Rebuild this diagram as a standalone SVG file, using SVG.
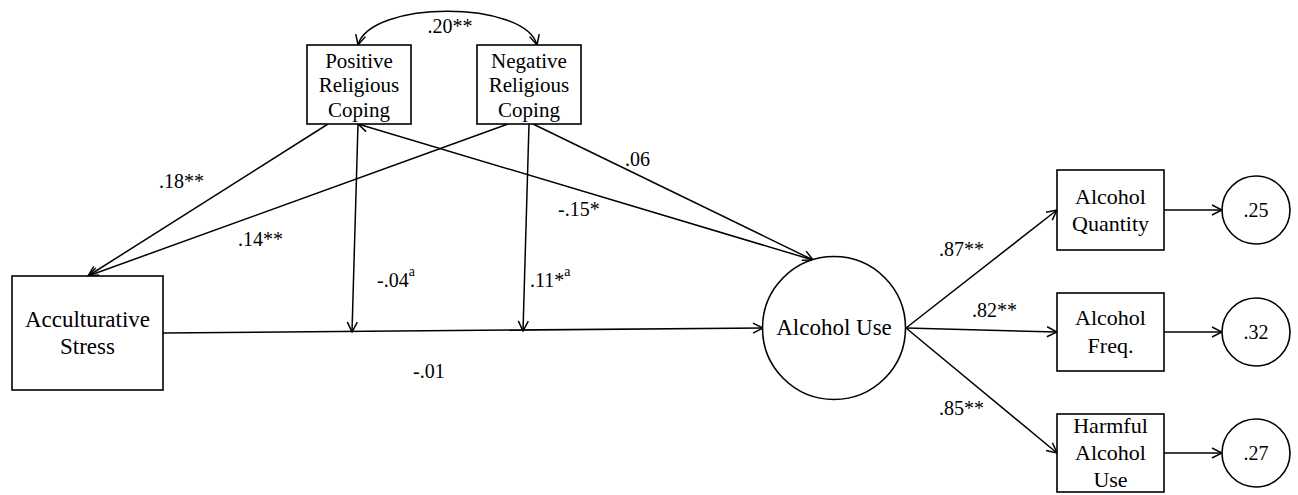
<svg xmlns="http://www.w3.org/2000/svg" width="1298" height="495" viewBox="0 0 1298 495" font-family="'Liberation Serif','Times New Roman',serif">
<style>
.box{fill:#fff;stroke:#000;stroke-width:1.6}
.ln{fill:none;stroke:#000;stroke-width:1.5}
text{font-family:"Liberation Serif","Times New Roman",serif;fill:#000}
.t21{font-size:21px;text-anchor:middle}
.t22{font-size:22px;text-anchor:middle}
.t23{font-size:23px;text-anchor:middle}
.lab{font-size:20px}
</style>
<defs>
<marker id="ar" viewBox="0 0 12 12" refX="11" refY="6" markerWidth="12" markerHeight="12" markerUnits="userSpaceOnUse" orient="auto-start-reverse">
<path d="M1,1 L11,6 L1,11" fill="none" stroke="#000" stroke-width="1.5"/>
</marker>
</defs>
<rect width="1298" height="495" fill="#fff"/>
<g id="connectors">
<path class="ln" d="M358,45 C370,0 525,0 537,45" marker-start="url(#ar)" marker-end="url(#ar)"/>
<line class="ln" x1="328" y1="124" x2="88" y2="276" marker-end="url(#ar)"/>
<line class="ln" x1="508" y1="124" x2="88" y2="276" marker-end="url(#ar)"/>
<line class="ln" x1="813" y1="260" x2="358" y2="124" marker-end="url(#ar)"/>
<line class="ln" x1="533" y1="124" x2="813" y2="260" marker-end="url(#ar)"/>
<line class="ln" x1="358" y1="124" x2="352" y2="332" marker-end="url(#ar)"/>
<line class="ln" x1="529" y1="124" x2="523" y2="331" marker-end="url(#ar)"/>
<line class="ln" x1="163" y1="333" x2="763" y2="328" marker-end="url(#ar)"/>
<line class="ln" x1="906" y1="328" x2="1057" y2="210" marker-end="url(#ar)"/>
<line class="ln" x1="906" y1="328" x2="1057" y2="332" marker-end="url(#ar)"/>
<line class="ln" x1="906" y1="328" x2="1057" y2="453" marker-end="url(#ar)"/>
<line class="ln" x1="1164" y1="210" x2="1222" y2="210" marker-end="url(#ar)"/>
<line class="ln" x1="1164" y1="332" x2="1222" y2="332" marker-end="url(#ar)"/>
<line class="ln" x1="1164" y1="453" x2="1222" y2="453" marker-end="url(#ar)"/>
</g>
<g id="labels">
<text class="lab" x="450" y="33" text-anchor="middle">.20**</text>
<text class="lab" x="159" y="188">.18**</text>
<text class="lab" x="238" y="246">.14**</text>
<text class="lab" x="625" y="166">.06</text>
<text class="lab" x="558" y="216">-.15*</text>
<text class="lab" x="377" y="287">-.04<tspan font-size="14" dy="-11">a</tspan></text>
<text class="lab" x="530" y="287">.11*<tspan font-size="14" dy="-11">a</tspan></text>
<text class="lab" x="413" y="378">-.01</text>
<text class="lab" x="939" y="256">.87**</text>
<text class="lab" x="972" y="317">.82**</text>
<text class="lab" x="939" y="415">.85**</text>
</g>
<g id="prc">
<rect class="box" x="307" y="45" width="104" height="79"/>
<text class="t21" x="359" y="68">Positive</text>
<text class="t21" x="359" y="92">Religious</text>
<text class="t21" x="359" y="117">Coping</text>
</g>
<g id="nrc">
<rect class="box" x="477" y="45" width="104" height="79"/>
<text class="t21" x="529" y="68">Negative</text>
<text class="t21" x="529" y="92">Religious</text>
<text class="t21" x="529" y="117">Coping</text>
</g>
<g id="as">
<rect class="box" x="12" y="276" width="151" height="114"/>
<text class="t23" x="87.5" y="327">Acculturative</text>
<text class="t23" x="87.5" y="354">Stress</text>
</g>
<g id="alcuse">
<circle class="box" cx="834" cy="328" r="71.5"/>
<text class="t23" x="834" y="335">Alcohol Use</text>
</g>
<g id="quantity">
<rect class="box" x="1057" y="170" width="107" height="80"/>
<text class="t22" x="1110.5" y="204">Alcohol</text>
<text class="t22" x="1110.5" y="231">Quantity</text>
</g>
<g id="freq">
<rect class="box" x="1057" y="293" width="107" height="78"/>
<text class="t22" x="1110.5" y="325">Alcohol</text>
<text class="t22" x="1110.5" y="353">Freq.</text>
</g>
<g id="harmful">
<rect class="box" x="1057" y="414" width="107" height="78"/>
<text class="t22" x="1110.5" y="433">Harmful</text>
<text class="t22" x="1110.5" y="460">Alcohol</text>
<text class="t22" x="1110.5" y="487">Use</text>
</g>
<g id="e1">
<circle class="box" cx="1256" cy="210" r="34"/>
<text class="lab" x="1256" y="217" text-anchor="middle">.25</text>
</g>
<g id="e2">
<circle class="box" cx="1256" cy="332" r="34"/>
<text class="lab" x="1256" y="339" text-anchor="middle">.32</text>
</g>
<g id="e3">
<circle class="box" cx="1256" cy="453" r="34"/>
<text class="lab" x="1256" y="460" text-anchor="middle">.27</text>
</g>
</svg>
